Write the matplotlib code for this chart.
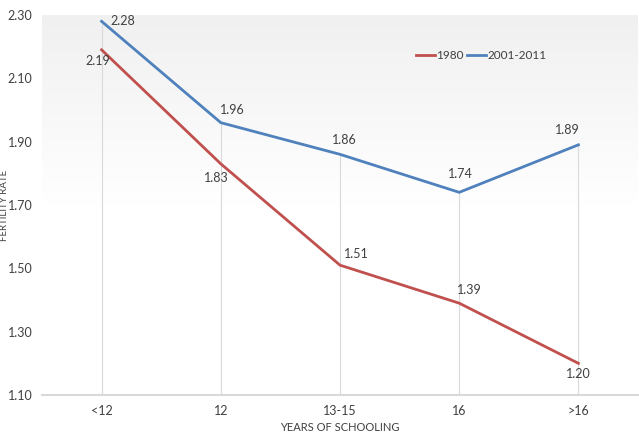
import numpy as np
import matplotlib.pyplot as plt
import matplotlib.colors as mcolors

plt.rcParams['font.family'] = ['Lato', 'DejaVu Sans']

categories = ['<12', '12', '13-15', '16', '>16']
rate_1980 = [2.19, 1.83, 1.51, 1.39, 1.20]
rate_2001 = [2.28, 1.96, 1.86, 1.74, 1.89]
yticks = [1.10, 1.30, 1.50, 1.70, 1.90, 2.10, 2.30]

red = '#C0504D'
blue = '#4F81BD'
txt = '#404040'

fig = plt.figure(figsize=(6.39, 4.41), dpi=100)
ax = fig.add_axes([42/639, 1 - 395/441, 596/639, 380/441])

x = np.arange(len(categories))

# gradient background
grad = np.linspace(0, 1, 256).reshape(-1, 1)
cmap = mcolors.LinearSegmentedColormap.from_list('bg', ['#ffffff', '#ffffff', '#f0f0f0'])
ax.imshow(grad, aspect='auto', cmap=cmap, extent=[-0.5, 4.5, 2.30, 1.10],
          origin='upper', zorder=0)

# drop lines
for xi, a, b in zip(x, rate_1980, rate_2001):
    ax.plot([xi, xi], [1.10, max(a, b)], color='#d9d9d9', lw=0.8, zorder=1)

ax.plot(x, rate_1980, color=red, lw=2.0, label='1980', zorder=3)
ax.plot(x, rate_2001, color=blue, lw=2.0, label='2001-2011', zorder=3)

# data labels (offsets in points)
off_1980 = [(-3, -8), (-3, -10), (11.5, 8), (7, 9.5), (0, -8)]
off_2001 = [(15, 0), (8, 9), (3, 10), (1, 13.5), (-8, 11)]
for xi, v, o in zip(x, rate_1980, off_1980):
    ax.annotate(f'{v:.2f}', (xi, v), xytext=o, textcoords='offset points',
                ha='center', va='center', fontsize=9, color=txt)
for xi, v, o in zip(x, rate_2001, off_2001):
    ax.annotate(f'{v:.2f}', (xi, v), xytext=o, textcoords='offset points',
                ha='center', va='center', fontsize=9, color=txt)

ax.set_xlim(-0.5, 4.5)
ax.set_ylim(1.10, 2.30)
ax.set_xticks(x)
ax.set_xticklabels(categories)
ax.set_yticks(yticks)
ax.set_yticklabels([f'{t:.2f}' for t in yticks])
ax.tick_params(length=0, labelsize=9, colors=txt)
ax.tick_params(axis='y', pad=7)
ax.tick_params(axis='x', pad=7)

for s in ['top', 'right', 'left']:
    ax.spines[s].set_visible(False)
ax.spines['bottom'].set_color('#d9d9d9')
ax.spines['bottom'].set_linewidth(1.5)

ax.set_xlabel('YEARS OF SCHOOLING', fontsize=8, color=txt, labelpad=4)
ax.set_ylabel('FERTILITY RATE', fontsize=7, color=txt)
ax.yaxis.set_label_coords(-33/596, 0.5)

ax.legend(loc='upper left', bbox_to_anchor=(0.61, 0.935), ncol=2, frameon=False,
          fontsize=8.5, handlelength=1.6, handletextpad=0.1, columnspacing=0.3,
          labelcolor=txt)

fig.savefig('out.png', dpi=100)
